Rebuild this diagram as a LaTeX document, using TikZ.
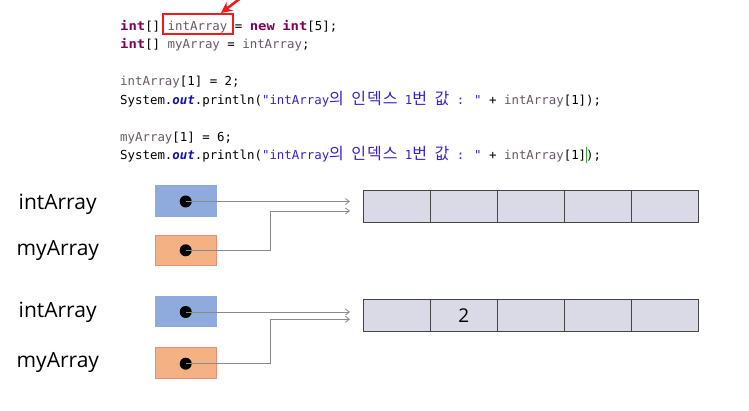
\documentclass[tikz,border=0pt]{standalone}
\usepackage{fontspec}
\setmainfont{Open Sans}
\newfontfamily\codefont[BoldFeatures={FakeStretch=1.12}]{DejaVu Sans Mono}
\newfontfamily\krfont[LetterSpace=6]{Noto Sans CJK KR}
\usetikzlibrary{arrows.meta,calc}
\definecolor{kwc}{HTML}{7F0055}
\definecolor{varc}{HTML}{6A5868}
\definecolor{strc}{HTML}{3A20D0}
\definecolor{outc}{HTML}{1010B0}
\definecolor{boxblue}{HTML}{8FAADC}
\definecolor{boxorange}{HTML}{F4B183}
\definecolor{orangeline}{HTML}{EE8A78}
\definecolor{cellfill}{HTML}{D9DAE6}
\definecolor{cellline}{HTML}{454545}
\definecolor{ptrline}{HTML}{8A8A8A}
\definecolor{cursorc}{HTML}{30B030}
\definecolor{markred}{HTML}{EE1C1C}
\newcommand{\kw}[1]{\textcolor{kwc}{\bfseries #1}}
\newcommand{\vr}[1]{\textcolor{varc}{#1}}
\newcommand{\kor}[1]{{\krfont\fontsize{16}{16}\selectfont #1}}
\newcommand{\outw}{\textcolor{outc}{\bfseries\itshape out}}
\tikzset{
  code/.style={anchor=base west, inner sep=0, font=\codefont\fontsize{12.4}{14}\selectfont},
  varlabel/.style={anchor=base west, inner sep=0, font=\fontsize{21}{21}\selectfont},
  bluebox/.style={rectangle, fill=boxblue, draw=boxblue, minimum width=61, minimum height=30.5, inner sep=0},
  orangebox/.style={rectangle, fill=boxorange, draw=orangeline, line width=0.8, minimum width=61, minimum height=30.5, inner sep=0},
  refdot/.style={circle, fill=black, inner sep=0, minimum size=12},
  cell/.style={rectangle, fill=cellfill, draw=cellline, line width=0.9, minimum width=67.14, minimum height=31.7, inner sep=0, font=\fontsize{19}{19}\selectfont},
  ptr/.style={draw=ptrline, line width=0.8, -{Straight Barb[length=4pt,width=6pt]}},
}
\begin{document}
\begin{tikzpicture}[x=1pt,y=-1pt]
\fill[white] (0,0) rectangle (749,411);
\useasboundingbox (0,0) rectangle (749,411);

% code
\node[code] (l1) at (120,30.5) {\kw{int}[] \vr{intArray} = \kw{new} \kw{int}[5];};
\node[code] (l2) at (120,49) {\kw{int}[] \vr{myArray} = \vr{intArray};};
\node[code] (l3) at (120,86) {\vr{intArray}[1] = 2;};
\node[code] (l4) at (120,104.5) {System.\outw.println(\textcolor{strc}{"intArray\kor{의} \kor{인덱스} 1\kor{번} \kor{값} : "} + \vr{intArray}[1]);};
\node[code] (l5) at (120,141.5) {\vr{myArray}[1] = 6;};
\node[code] (l6) at (120,160) {System.\outw.println(\textcolor{strc}{"intArray\kor{의} \kor{인덱스} 1\kor{번} \kor{값} : "} + \vr{intArray}[1]\rlap{\hspace{-0.5pt}\textcolor{cursorc}{\rule[-3.5pt]{0.9pt}{16pt}}});};

% red highlight
\node[draw=markred, line width=2, minimum width=70, minimum height=20.5, inner sep=0] (redbox) at (197.6,23.8) {};
\coordinate (rtail) at (246,-6);
\coordinate (rtip) at (221,13);
\draw[markred, line width=2.6, -{Stealth[length=11pt,width=11pt]}] (rtail) -- (rtip);

% group 1
\node[varlabel] (lA1) at (18.5,209.3) {intArray};
\node[varlabel] (lB1) at (16.5,256) {myArray};
\node[bluebox] (pA1) at (185.5,200.8) {};
\node[orangebox] (pB1) at (185.5,250.4) {};
\node[refdot] (dA1) at (185.7,201.5) {};
\node[refdot] (dB1) at (185.7,250.3) {};
\foreach \i in {1,...,5} {
  \node[cell] (c1\i) at ({363+33.57+67.14*(\i-1)},206.8) {};
}
\coordinate (tA1) at (350,201.5);
\coordinate (tB1) at (350,211);
\coordinate (kB1) at (270.5,211);
\draw[ptr] (dA1.center) -- (tA1);
\draw[ptr] (dB1.center) -| (kB1) -- (tB1);

% group 2
\node[varlabel] (lA2) at (18.5,318) {intArray};
\node[varlabel] (lB2) at (16.5,367.7) {myArray};
\node[bluebox] (pA2) at (185.5,311.3) {};
\node[orangebox] (pB2) at (185.5,363) {};
\node[refdot] (dA2) at (185.7,312) {};
\node[refdot] (dB2) at (185.7,363.7) {};
\foreach \i in {1,...,5} {
  \node[cell] (c2\i) at ({363+33.57+67.14*(\i-1)},315.8) {};
}
\node[font=\fontsize{19}{19}\selectfont, inner sep=0] (v22) at (c22) {2};
\coordinate (tA2) at (350,312);
\coordinate (tB2) at (350,319.3);
\coordinate (kB2) at (270.5,319.3);
\draw[ptr] (dA2.center) -- (tA2);
\draw[ptr] (dB2.center) -| (kB2) -- (tB2);
\end{tikzpicture}
\end{document}
